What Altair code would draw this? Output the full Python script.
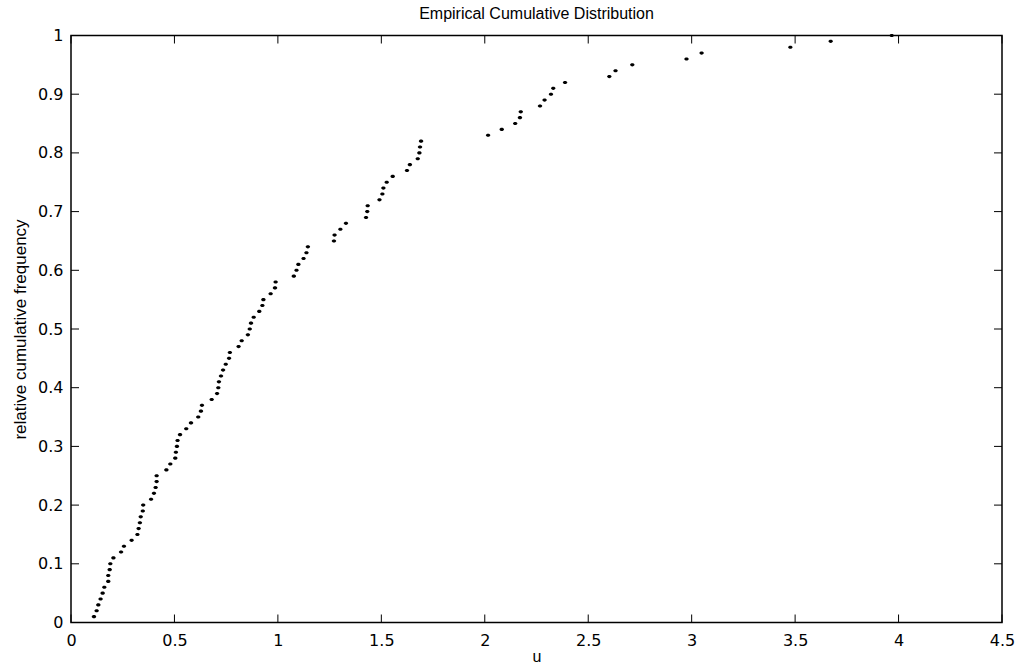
import altair as alt
import pandas as pd

# Sorted sample values (x)
u_values = [
    0.111, 0.124, 0.132, 0.143, 0.153, 0.161, 0.180, 0.180, 0.187, 0.190,
    0.205, 0.242, 0.256, 0.293, 0.321, 0.327, 0.333, 0.337, 0.347, 0.349,
    0.387, 0.401, 0.409, 0.414, 0.414, 0.461, 0.480, 0.504, 0.507, 0.512,
    0.515, 0.527, 0.557, 0.580, 0.615, 0.628, 0.633, 0.680, 0.706, 0.712,
    0.715, 0.725, 0.735, 0.748, 0.764, 0.768, 0.810, 0.825, 0.855, 0.864,
    0.870, 0.883, 0.910, 0.925, 0.930, 0.965, 0.986, 0.989, 1.077, 1.090,
    1.099, 1.124, 1.138, 1.145, 1.271, 1.274, 1.302, 1.329, 1.426, 1.432,
    1.434, 1.491, 1.505, 1.510, 1.526, 1.555, 1.624, 1.638, 1.676, 1.684,
    1.687, 1.692, 2.016, 2.082, 2.147, 2.170, 2.174, 2.267, 2.289, 2.320,
    2.331, 2.388, 2.602, 2.632, 2.713, 2.975, 3.048, 3.477, 3.672, 3.967,
]

# Relative cumulative frequency (y)
freq_values = [
    0.01, 0.02, 0.03, 0.04, 0.05, 0.06, 0.07, 0.08, 0.09, 0.10,
    0.11, 0.12, 0.13, 0.14, 0.15, 0.16, 0.17, 0.18, 0.19, 0.20,
    0.21, 0.22, 0.23, 0.24, 0.25, 0.26, 0.27, 0.28, 0.29, 0.30,
    0.31, 0.32, 0.33, 0.34, 0.35, 0.36, 0.37, 0.38, 0.39, 0.40,
    0.41, 0.42, 0.43, 0.44, 0.45, 0.46, 0.47, 0.48, 0.49, 0.50,
    0.51, 0.52, 0.53, 0.54, 0.55, 0.56, 0.57, 0.58, 0.59, 0.60,
    0.61, 0.62, 0.63, 0.64, 0.65, 0.66, 0.67, 0.68, 0.69, 0.70,
    0.71, 0.72, 0.73, 0.74, 0.75, 0.76, 0.77, 0.78, 0.79, 0.80,
    0.81, 0.82, 0.83, 0.84, 0.85, 0.86, 0.87, 0.88, 0.89, 0.90,
    0.91, 0.92, 0.93, 0.94, 0.95, 0.96, 0.97, 0.98, 0.99, 1.00,
]

x_ticks = [0, 0.5, 1, 1.5, 2, 2.5, 3, 3.5, 4, 4.5]
y_ticks = [0, 0.1, 0.2, 0.3, 0.4, 0.5, 0.6, 0.7, 0.8, 0.9, 1]

W, H = 931, 587
TICK = 8

df = pd.DataFrame({"u": u_values, "freq": freq_values})
xt = pd.DataFrame({"u": x_ticks})
yt = pd.DataFrame({"freq": y_ticks})

xscale = alt.Scale(domain=[0, 4.5], nice=False, zero=False)
yscale = alt.Scale(domain=[0, 1], nice=False, zero=False)

label_font = "DejaVu Sans"
text_font = "Liberation Sans"

xaxis = alt.Axis(
    values=x_ticks,
    format="~g",
    ticks=False,
    tickSize=0,
    domain=False,
    grid=False,
    labelFont=label_font,
    labelFontSize=16,
    labelColor="black",
    labelPadding=10,
    labelFlush=False,
    title="u",
    titleFont=text_font,
    titleFontSize=16,
    titleFontWeight="normal",
    titleColor="black",
    titlePadding=0,
)
yaxis = alt.Axis(
    values=y_ticks,
    format="~g",
    ticks=False,
    tickSize=0,
    domain=False,
    grid=False,
    labelFont=label_font,
    labelFontSize=16,
    labelColor="black",
    labelPadding=8,
    labelFlush=False,
    title="relative cumulative frequency",
    titleFont=text_font,
    titleFontSize=17,
    titleFontWeight="normal",
    titleColor="black",
    titlePadding=8,
)

points = alt.Chart(df).mark_point(
    filled=True,
    shape="M-1,0A1,0.7,0,1,1,1,0A1,0.7,0,1,1,-1,0Z",
    size=20,
    color="black",
    opacity=1,
    strokeWidth=0,
).encode(
    x=alt.X("u:Q", scale=xscale, axis=xaxis),
    y=alt.Y("freq:Q", scale=yscale, axis=yaxis),
)

rule_style = dict(color="black", strokeWidth=1)

left_ticks = alt.Chart(yt).mark_rule(**rule_style).encode(
    y=alt.Y("freq:Q", scale=yscale, axis=yaxis),
    x=alt.value(0),
    x2=alt.value(TICK),
)
right_ticks = alt.Chart(yt).mark_rule(**rule_style).encode(
    y=alt.Y("freq:Q", scale=yscale, axis=yaxis),
    x=alt.value(W),
    x2=alt.value(W - TICK),
)
bottom_ticks = alt.Chart(xt).mark_rule(**rule_style).encode(
    x=alt.X("u:Q", scale=xscale, axis=xaxis),
    y=alt.value(H),
    y2=alt.value(H - TICK),
)
top_ticks = alt.Chart(xt).mark_rule(**rule_style).encode(
    x=alt.X("u:Q", scale=xscale, axis=xaxis),
    y=alt.value(0),
    y2=alt.value(TICK),
)

chart = (
    alt.layer(points, left_ticks, right_ticks, bottom_ticks, top_ticks)
    .properties(
        width=W,
        height=H,
        title=alt.TitleParams(
            "Empirical Cumulative Distribution",
            font=text_font,
            fontSize=16,
            fontWeight="normal",
            color="black",
            anchor="middle",
            frame="group",
            baseline="alphabetic",
            offset=12,
            dy=19,
        ),
        autosize=alt.AutoSizeParams(type="none"),
        padding={"left": 71, "top": 35.5, "right": 22, "bottom": 45},
        background="white",
    )
    .configure_view(stroke="black", strokeWidth=1.5)
)

chart.save("out.html", embed_options={"renderer": "svg", "actions": False})
